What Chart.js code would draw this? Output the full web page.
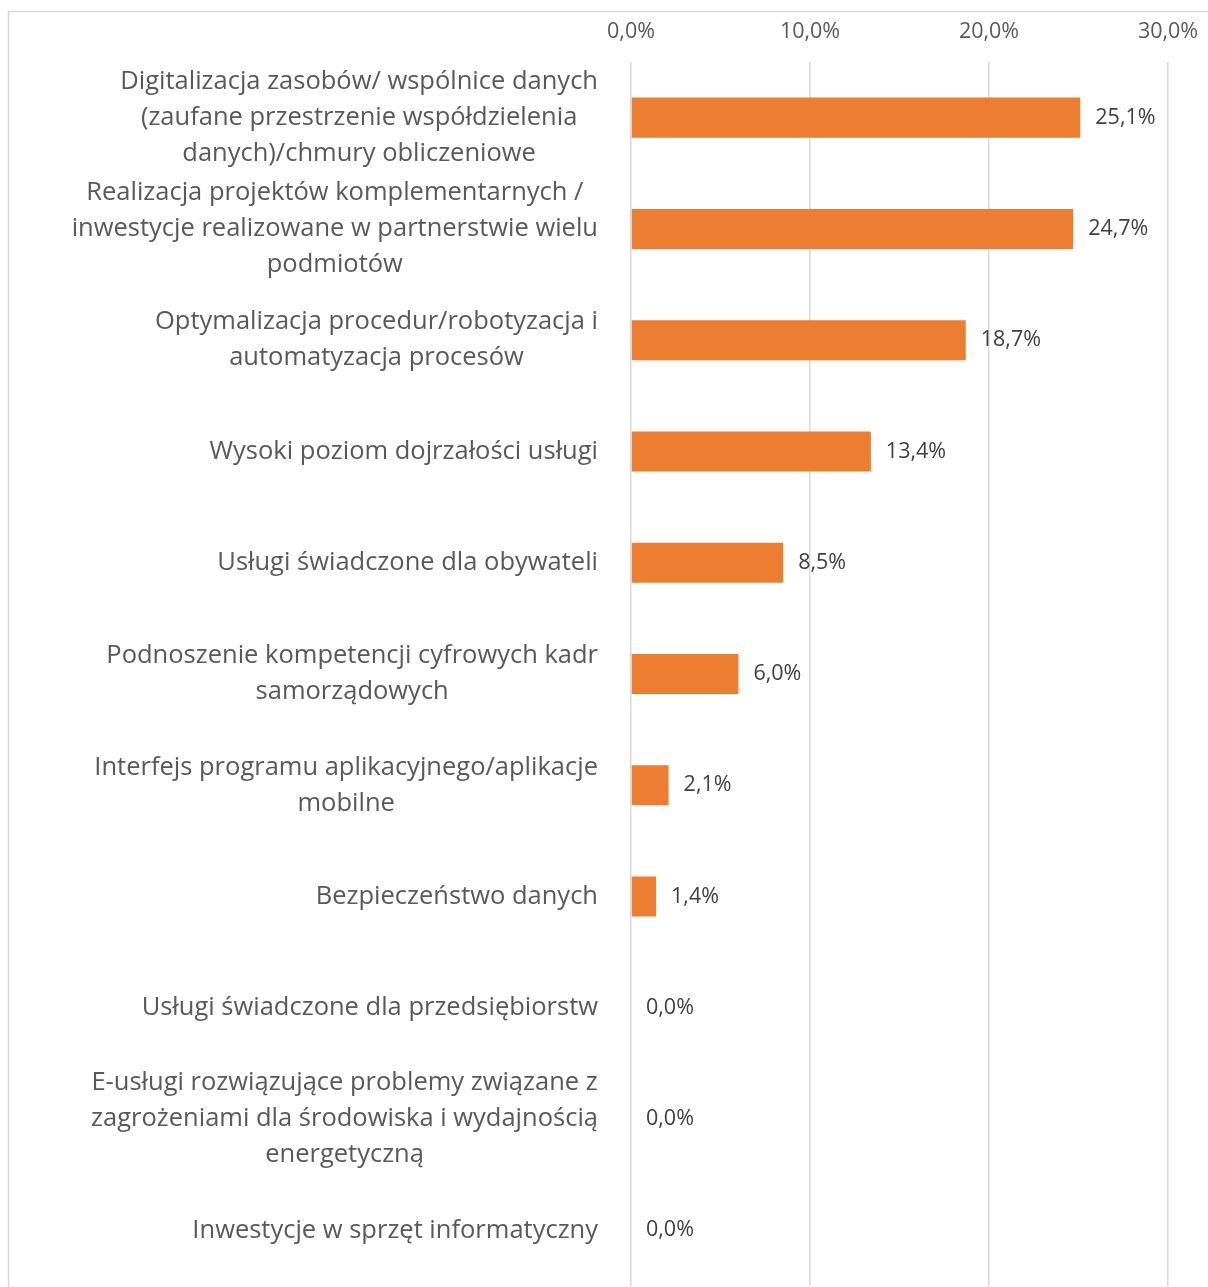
<!DOCTYPE html>
<html lang="pl">
<head>
<meta charset="utf-8">
<title>Wykres</title>
<script src="https://cdn.jsdelivr.net/npm/chart.js@4/dist/chart.umd.min.js"></script>
<style>
  html, body { margin: 0; padding: 0; background: #ffffff; }
  #wrap { position: relative; width: 1208px; height: 1287px; }
</style>
</head>
<body>
<div id="wrap"><canvas id="chart"></canvas></div>
<script>
// Kategorie (wiersze łamane tak jak w etykietach osi)
const categories = [
  ["Digitalizacja zasobów/ wspólnice danych", "(zaufane przestrzenie współdzielenia", "danych)/chmury obliczeniowe"],
  ["Realizacja projektów komplementarnych /", "inwestycje realizowane w partnerstwie wielu", "podmiotów"],
  ["Optymalizacja procedur/robotyzacja i", "automatyzacja procesów"],
  ["Wysoki poziom dojrzałości usługi"],
  ["Usługi świadczone dla obywateli"],
  ["Podnoszenie kompetencji cyfrowych kadr", "samorządowych"],
  ["Interfejs programu aplikacyjnego/aplikacje", "mobilne"],
  ["Bezpieczeństwo danych"],
  ["Usługi świadczone dla przedsiębiorstw"],
  ["E-usługi rozwiązujące problemy związane z", "zagrożeniami dla środowiska i wydajnością", "energetyczną"],
  ["Inwestycje w sprzęt informatyczny"]
];

// Udział odpowiedzi (%)
const shares = [25.1, 24.7, 18.7, 13.4, 8.5, 6.0, 2.1, 1.4, 0.0, 0.0, 0.0];

// Wartości osi X
const axisTicks = [0, 10, 20, 30];

const FONT = "'Open Sans', 'DejaVu Sans', sans-serif";
const fmt = v => v.toFixed(1).replace('.', ',') + '%';

// Ramka obszaru wykresu
const framePlugin = {
  id: 'frame',
  beforeDraw(chart) {
    const ctx = chart.ctx;
    ctx.save();
    ctx.strokeStyle = '#d9d9d9';
    ctx.lineWidth = 1.5;
    ctx.strokeRect(8.5, 11.5, 1400, 1400);
    ctx.restore();
  }
};

// Etykiety kategorii: wiersze wyśrodkowane względem siebie, blok wyrównany do prawej
const categoryLabelPlugin = {
  id: 'categoryLabels',
  afterDraw(chart) {
    const ctx = chart.ctx;
    const y = chart.scales.y;
    const rightEdge = 598;
    const lineH = 36;
    ctx.save();
    ctx.font = "25.5px " + FONT;
    ctx.fillStyle = '#595959';
    ctx.textAlign = 'center';
    ctx.textBaseline = 'middle';
    categories.forEach((lines, i) => {
      const cy = y.getPixelForTick(i);
      const w = Math.max(...lines.map(l => ctx.measureText(l).width));
      const cx = rightEdge - w / 2;
      const top = cy - (lines.length - 1) * lineH / 2;
      lines.forEach((l, k) => ctx.fillText(l, cx, top + k * lineH));
    });
    ctx.restore();
  }
};

// Wartości przy słupkach
const valueLabelPlugin = {
  id: 'valueLabels',
  afterDatasetsDraw(chart) {
    const ctx = chart.ctx;
    const meta = chart.getDatasetMeta(0);
    ctx.save();
    ctx.font = "21.5px " + FONT;
    ctx.fillStyle = '#404040';
    ctx.textAlign = 'left';
    ctx.textBaseline = 'middle';
    meta.data.forEach((bar, i) => {
      ctx.fillText(fmt(shares[i]), bar.x + 15, bar.y);
    });
    ctx.restore();
  }
};

new Chart(document.getElementById('chart'), {
  type: 'bar',
  data: {
    labels: categories.map(c => c.join(' ')),
    datasets: [{
      data: shares,
      backgroundColor: '#ED7D31',
      borderWidth: 0,
      barPercentage: 0.36,
      categoryPercentage: 1.0
    }]
  },
  options: {
    indexAxis: 'y',
    responsive: true,
    maintainAspectRatio: false,
    animation: false,
    layout: { padding: { left: 631, right: 40, top: 12, bottom: 1 } },
    plugins: {
      legend: { display: false },
      tooltip: { enabled: false }
    },
    scales: {
      x: {
        position: 'top',
        min: axisTicks[0],
        max: axisTicks[axisTicks.length - 1],
        afterBuildTicks: s => { s.ticks = axisTicks.map(v => ({ value: v })); },
        afterFit: s => { s.height = 50; s.paddingLeft = 0; s.paddingRight = 0; },
        grid: { color: '#d9d9d9', lineWidth: 1.5, drawTicks: false },
        border: { display: false },
        ticks: {
          padding: 17,
          color: '#595959',
          font: { family: FONT, size: 21.5 },
          callback: v => fmt(v)
        }
      },
      y: {
        display: false,
        grid: { display: false }
      }
    }
  },
  plugins: [framePlugin, categoryLabelPlugin, valueLabelPlugin]
});
</script>
</body>
</html>
